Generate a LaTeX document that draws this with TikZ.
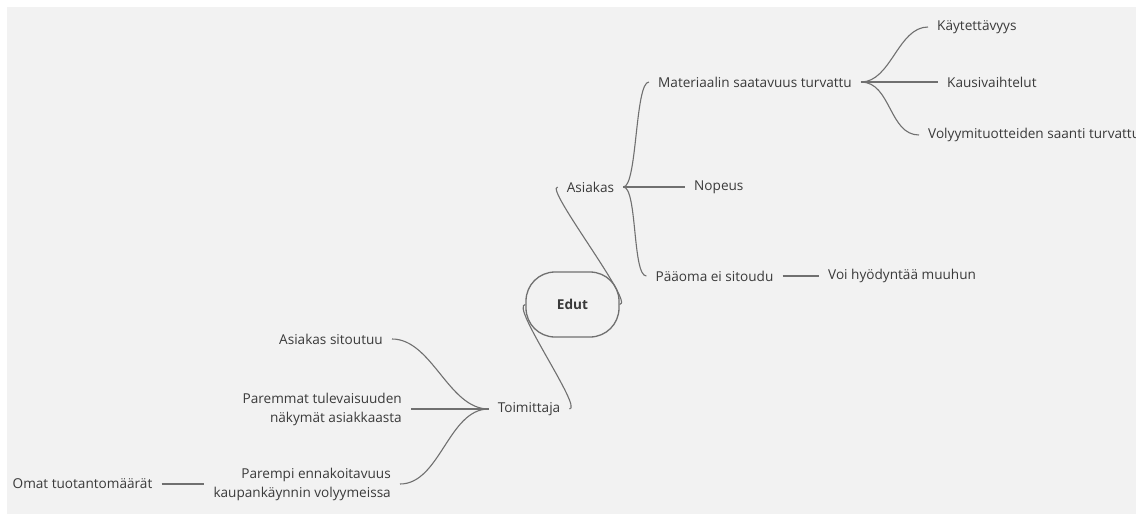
\documentclass[tikz,border=0pt]{standalone}
\usepackage{fontspec}
\setmainfont{Open Sans}
\begin{document}
\begin{tikzpicture}[x=1pt,y=-1pt,
  every node/.style={font=\fontsize{13.6}{19}\selectfont, text=txt, inner xsep=9pt, inner ysep=2pt},
  conn/.style={draw=line, line width=1.1pt},
  hub/.style={draw=line, line width=1.3pt, rounded corners=29pt, minimum width=93pt, minimum height=65pt, font=\fontsize{13.6}{16}\selectfont\bfseries}
]
\definecolor{bg}{HTML}{F2F2F2}
\definecolor{txt}{HTML}{3A3A3A}
\definecolor{line}{HTML}{707070}
\useasboundingbox (0,0) rectangle (1136,517);
\clip (0,0) rectangle (1136,517);
\fill[white] (0,0) rectangle (1136,517);
\fill[bg] (7,7) rectangle (1136,514);

% central topic
\node[hub] (edut) at (572.5,304.5) {Edut};

% customer branch
\node (asiakas) at (590.5,187) {Asiakas};
\node (mat) at (755,82) {Materiaalin saatavuus turvattu};
\node[anchor=west] (kay) at (928,27) {Käytettävyys};
\node[anchor=west] (kaus) at (938,82) {Kausivaihtelut};
\node[anchor=west] (voly) at (919,135) {Volyymituotteiden saanti turvattu};
\node[anchor=west] (nop) at (685,187) {Nopeus};
\node (paa) at (714.5,276) {Pääoma ei sitoudu};
\node[anchor=west] (voi) at (819,276) {Voi hyödyntää muuhun};

% supplier branch
\node (toim) at (529,409) {Toimittaja};
\node[anchor=east] (sit) at (392,339) {Asiakas sitoutuu};
\node[anchor=east, align=right] (par) at (411,409) {Paremmat tulevaisuuden\\näkymät asiakkaasta};
\node[anchor=east, align=right] (enn) at (400,484) {Parempi ennakoitavuus\\kaupankäynnin volyymeissa};
\node (omat) at (82.5,484) {Omat tuotantomäärät};

% connectors
\draw[conn] (edut.east) .. controls +(16,0) and +(-14,0) .. (asiakas.west);
\draw[conn] (edut.west) .. controls +(-16,0) and +(14,0) .. (toim.east);

\draw[conn] (asiakas.east) .. controls +(14,0) and +(-14,0) .. (mat.west);
\draw[conn] (asiakas.east) -- (nop.west);
\draw[conn] (asiakas.east) .. controls +(14,0) and +(-14,0) .. (paa.west);
\draw[conn] (paa.east) -- (voi.west);

\draw[conn] (mat.east) .. controls +(30,0) and +(-30,0) .. (kay.west);
\draw[conn] (mat.east) -- (kaus.west);
\draw[conn] (mat.east) .. controls +(30,0) and +(-30,0) .. (voly.west);

\draw[conn] (toim.west) .. controls +(-40,0) and +(40,0) .. (sit.east);
\draw[conn] (toim.west) -- (par.east);
\draw[conn] (toim.west) .. controls +(-40,0) and +(40,0) .. (enn.east);
\draw[conn] (omat.east) -- (enn.west);
\end{tikzpicture}
\end{document}
